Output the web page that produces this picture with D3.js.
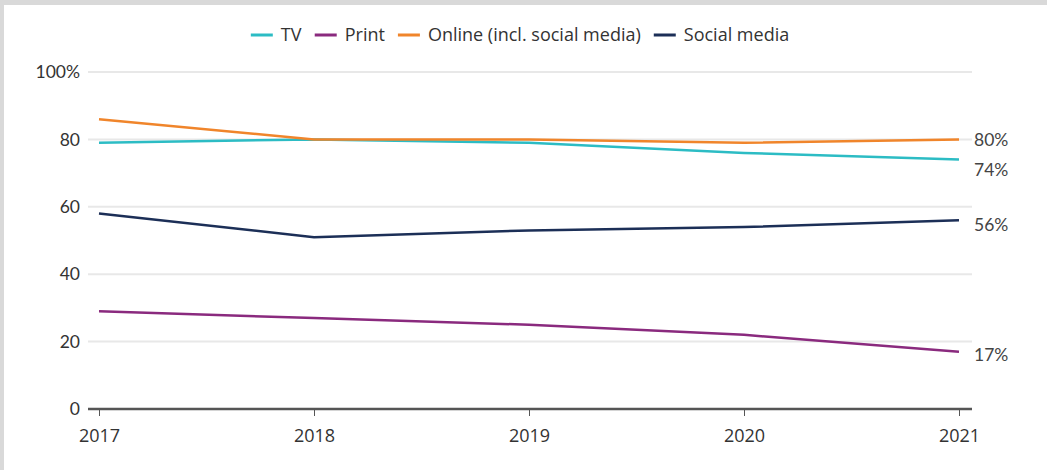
<!DOCTYPE html>
<html>
<head>
<meta charset="utf-8">
<script src="https://cdn.jsdelivr.net/npm/d3@7"></script>
<style>
  body { margin: 0; background: #fff; }
  svg { display: block; font-family: Lato, "Open Sans", sans-serif; }
  .grid line { stroke: #e8e8e8; stroke-width: 2; }
</style>
</head>
<body>
<div id="chart"></div>
<script>
const years = [2017, 2018, 2019, 2020, 2021];
const tv = [79, 80, 79, 76, 74];
const print = [29, 27, 25, 22, 17];
const online = [86, 80, 80, 79, 80];
const social = [58, 51, 53, 54, 56];
const yTicks = [0, 20, 40, 60, 80, 100];

const series = [
  { name: "TV", values: tv, color: "#2cbcc4" },
  { name: "Print", values: print, color: "#8a2a7e" },
  { name: "Online (incl. social media)", values: online, color: "#f0852b" },
  { name: "Social media", values: social, color: "#1c2f57" }
];

const width = 1047, height = 470;

const x = d3.scalePoint()
  .domain(years)
  .range([99, 959]);

const y = d3.scaleLinear()
  .domain([0, 100])
  .range([409, 72]);

const svg = d3.select("#chart").append("svg")
  .attr("width", width)
  .attr("height", height);

// frame of the screenshot
svg.append("rect").attr("x", 0).attr("y", 0).attr("width", width).attr("height", 5).attr("fill", "#d9d9d9");
svg.append("rect").attr("x", 0).attr("y", 0).attr("width", 4).attr("height", height).attr("fill", "#d9d9d9");

// gridlines
svg.append("g")
  .attr("class", "grid")
  .selectAll("line")
  .data(yTicks.filter(d => d > 0))
  .join("line")
  .attr("x1", 88)
  .attr("x2", 972)
  .attr("y1", d => y(d))
  .attr("y2", d => y(d));

// y labels
svg.append("g")
  .selectAll("text")
  .data(yTicks)
  .join("text")
  .attr("x", 80)
  .attr("y", d => y(d))
  .attr("dy", "0.35em")
  .attr("text-anchor", "end")
  .attr("fill", "#333")
  .style("font-size", "17.5px")
  .text(d => d === 100 ? "100%" : d);

// x axis
const xAxis = svg.append("g")
  .attr("transform", `translate(0,${y(0)})`)
  .call(d3.axisBottom(x).tickSize(7).tickPadding(13).tickSizeOuter(0));
xAxis.select(".domain").remove();
xAxis.selectAll(".tick line").attr("stroke", "#555").attr("stroke-width", 1);
xAxis.selectAll(".tick text")
  .style("font-family", "'Open Sans', sans-serif")
  .style("font-size", "18px")
  .attr("fill", "#333");
xAxis.append("line")
  .attr("x1", 88).attr("x2", 972)
  .attr("stroke", "#555").attr("stroke-width", 2.5);

// lines
const line = d3.line()
  .x((d, i) => x(years[i]))
  .y(d => y(d));

svg.append("g")
  .selectAll("path")
  .data(series)
  .join("path")
  .attr("fill", "none")
  .attr("stroke", d => d.color)
  .attr("stroke-width", 2.5)
  .attr("d", d => line(d.values));

// end labels
const endOffset = { "TV": 10, "Print": 3, "Online (incl. social media)": 0, "Social media": 5 };
svg.append("g")
  .selectAll("text")
  .data(series)
  .join("text")
  .attr("x", 974)
  .attr("y", d => y(d.values[d.values.length - 1]) + endOffset[d.name])
  .attr("dy", "0.35em")
  .attr("fill", "#444")
  .style("font-size", "17.5px")
  .text(d => d.values[d.values.length - 1] + "%");

// legend
const legend = svg.append("g").attr("transform", "translate(0,35)");
const items = legend.selectAll("g")
  .data(series)
  .join("g");
items.append("line")
  .attr("x1", 0).attr("x2", 22)
  .attr("stroke", d => d.color)
  .attr("stroke-width", 3);
items.append("text")
  .attr("x", 30)
  .attr("dy", "0.35em")
  .attr("fill", "#333")
  .style("font-family", "'Open Sans', sans-serif")
  .style("font-size", "18px")
  .text(d => d.name);

const widths = [];
items.each(function () {
  widths.push(this.getBBox().width);
});
const gap = 13;
const total = d3.sum(widths) + gap * (widths.length - 1);
let pos = 520 - total / 2;
items.attr("transform", (d, i) => {
  const t = `translate(${pos},0)`;
  pos += widths[i] + gap;
  return t;
});
</script>
</body>
</html>
